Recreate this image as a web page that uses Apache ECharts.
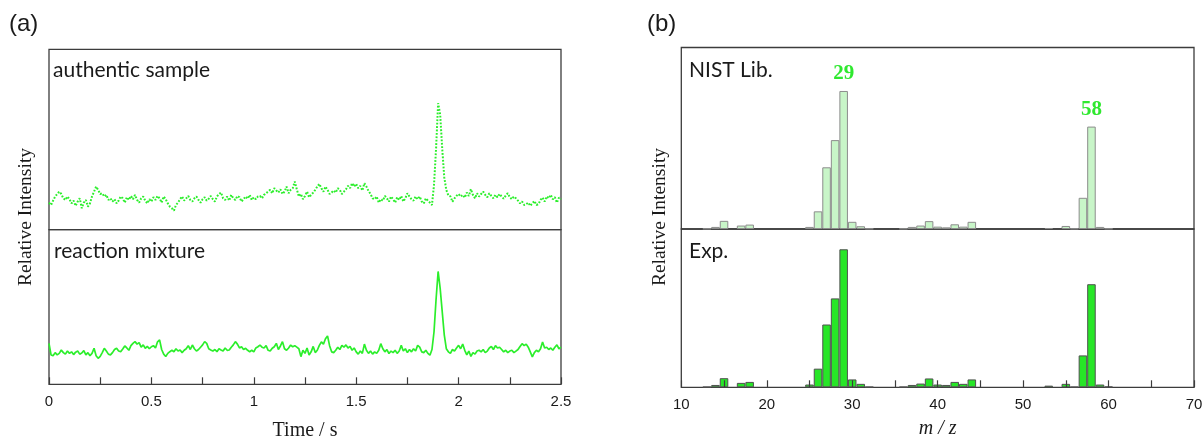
<!DOCTYPE html>
<html>
<head>
<meta charset="utf-8">
<script src="https://cdn.jsdelivr.net/npm/echarts@6/dist/echarts.min.js"></script>
<style>
  html, body { margin: 0; padding: 0; background: #ffffff; }
  #chart { width: 1204px; height: 439px; }
</style>
</head>
<body>
<div id="chart"></div>
<script>
// ---- (a) chromatograms: signal sampled every 0.01 s from 0 to 2.5 s ----
const timeStep = 0.01;
const authenticSample = [
  15.0,13.7,16.1,18.4,19.8,21.1,19.8,17.4,16.5,18.4,
  16.9,14.6,16.1,13.2,15.6,17.4,11.9,15.0,16.5,12.8,
  14.6,18.4,21.1,23.9,22.1,19.8,20.2,18.4,19.3,16.5,
  17.4,15.6,16.9,14.6,16.1,18.4,17.4,15.0,18.0,16.5,
  18.7,16.9,19.3,16.5,15.0,17.4,18.4,16.1,14.6,16.9,
  15.6,18.0,16.5,18.7,17.4,15.0,18.4,16.9,14.6,12.8,
  11.9,10.6,13.7,15.0,16.9,18.4,16.1,17.4,18.7,16.5,
  15.6,17.4,18.4,16.5,15.0,16.9,18.0,16.1,17.2,18.7,
  16.9,15.6,18.4,19.8,20.6,17.4,16.5,18.4,16.1,19.3,
  17.4,16.5,18.7,18.0,15.6,16.9,18.4,17.2,19.3,16.5,
  18.0,16.9,18.4,18.7,17.4,19.3,20.2,21.1,22.1,20.2,
  23.0,21.7,20.6,22.4,19.8,21.1,23.9,20.2,22.1,23.0,
  26.7,22.4,18.4,19.8,16.9,18.7,21.1,18.0,19.3,20.6,
  22.1,23.9,25.4,23.0,21.1,23.9,22.1,19.8,20.6,21.7,
  20.6,23.0,22.1,19.8,21.1,22.4,24.3,23.0,25.8,23.9,
  25.4,23.0,24.3,21.7,25.8,23.9,21.5,19.8,17.4,16.9,
  18.4,15.0,16.9,16.1,18.7,17.4,15.6,18.4,16.9,15.0,
  18.0,16.5,18.7,15.6,17.4,20.2,18.4,16.9,16.1,18.4,
  16.9,18.4,15.6,14.6,17.4,16.1,15.0,13.7,25.0,45.0,
  70.1,64.0,45.0,29.0,22.0,19.0,18.5,15.5,17.4,18.8,
  19.8,18.4,19.3,17.8,20.6,18.7,22.5,19.3,17.4,20.2,
  18.4,19.8,21.1,19.3,18.0,20.2,18.7,17.4,19.3,18.0,
  19.8,18.4,17.2,18.9,20.2,18.0,16.9,18.4,17.4,16.1,
  14.6,15.6,13.7,14.2,15.0,13.2,14.6,15.9,13.7,14.2,
  16.5,17.8,15.6,18.4,17.4,19.3,16.9,18.0,15.0,17.8,16.9
];
const reactionMixture = [
  26.5,19.0,18.5,20.5,19.0,20.0,22.2,20.5,19.5,21.5,
  20.0,21.0,19.2,20.8,21.5,19.5,20.2,21.8,19.0,20.5,
  18.5,20.0,23.3,18.5,16.8,18.0,20.5,23.3,21.5,19.5,
  19.0,20.5,22.5,23.3,21.5,21.1,22.8,24.8,23.5,22.0,
  25.0,26.5,27.6,26.0,27.0,24.0,25.5,23.3,24.5,23.0,
  24.3,25.0,23.5,27.5,28.7,22.5,19.5,18.0,20.0,21.1,
  22.0,21.1,23.0,21.5,22.2,20.5,22.0,23.0,25.0,22.5,
  25.4,23.0,21.5,22.5,24.0,25.5,27.6,26.5,23.0,22.2,
  21.5,22.5,21.1,23.0,22.2,21.5,23.5,22.0,22.2,24.0,
  25.5,27.6,26.0,23.5,24.3,22.5,23.3,22.0,21.1,22.0,
  21.0,23.5,24.3,25.4,24.0,23.5,25.0,22.0,21.5,23.3,
  24.3,26.5,22.5,24.8,27.6,23.0,22.0,23.5,25.4,24.3,
  25.0,24.0,23.0,17.9,22.0,20.0,23.5,19.0,21.0,24.5,
  20.5,22.0,25.2,27.4,26.0,29.5,31.3,25.0,21.0,20.5,
  22.0,24.0,22.5,25.2,24.0,25.5,23.5,24.5,22.0,23.5,
  21.0,19.5,21.5,20.0,26.0,22.0,20.0,21.5,19.5,21.0,
  20.0,22.0,26.3,23.0,21.0,22.5,19.9,21.5,20.5,22.0,
  20.0,21.5,25.2,21.5,23.0,20.5,22.5,21.0,23.0,21.5,
  25.2,24.0,21.0,20.5,22.0,20.0,18.8,22.5,34.0,55.0,
  73.0,62.0,47.0,32.0,23.0,21.0,20.0,22.5,21.5,23.5,
  25.2,23.0,26.0,22.0,19.0,21.5,18.0,20.5,19.5,21.5,
  22.0,21.0,22.5,20.5,21.5,23.5,24.5,22.5,25.0,23.5,
  24.0,22.5,21.0,22.0,20.5,21.5,22.0,20.5,21.5,22.5,
  24.5,26.3,25.0,26.0,24.0,21.0,17.7,20.5,22.0,21.0,
  23.0,27.4,23.5,24.0,22.5,23.5,22.0,24.0,25.5,23.0,24.0
];
const timeTickLabels = ['0', '0.5', '1', '1.5', '2', '2.5'];

// ---- (b) mass spectra: relative intensity (m/z 29 = 100) ----
const mzValues = [13, 14, 15, 17, 18, 25, 26, 27, 28, 29, 30, 31, 32,
                  36, 37, 38, 39, 40, 41, 42, 43, 44, 53, 55, 56, 57, 58, 59, 60];
const nistIntensity = [0.3, 1.5, 5.9, 2.5, 3.2, 1.5, 12.8, 44.7, 64.4, 100, 5.2, 2.0, 0.3,
                       0.3, 1.5, 2.5, 5.7, 1.7, 1.2, 3.4, 1.7, 5.2, 0.7, 2.2, 0.3, 22.6, 74.2, 1.5, 0.3];
const expIntensity  = [0.3, 1.7, 6.6, 3.2, 3.9, 2.0, 13.5, 45.5, 64.4, 100, 5.7, 2.5, 0.3,
                       0.3, 1.7, 2.7, 6.4, 2.0, 1.7, 3.9, 2.5, 5.7, 1.2, 2.5, 0.3, 23.1, 74.7, 2.0, 0.5];
const labelledPeaks = [29, 58];
const mzTickLabels = ['10', '20', '30', '40', '50', '60', '70'];

// ---- layout ----
const TEXT = '#1a1a1a';
const FRAME = '#3c3c3c';
const TRACE = '#2bee2b';
const serif = '"Liberation Serif", "DejaVu Serif", serif';
const sans = '"Liberation Sans", Arial, sans-serif';
const humanist = 'Lato, "Open Sans", sans-serif';

const gridA1 = { left: 49, top: 49.3, width: 512, height: 180.4 };
const gridA2 = { left: 49, top: 229.7, width: 512, height: 154.6 };
const gridB1 = { left: 681.3, top: 47.5, width: 512.7, height: 181.5 };
const gridB2 = { left: 681.3, top: 229, width: 512.7, height: 158.3 };

const mzMin = 10, mzMax = 70;
const barPx = gridB1.width / (mzMax - mzMin);

function asPairs(values) {
  return values.map((v, i) => [+(i * timeStep).toFixed(2), v]);
}
function barData(values) {
  return mzValues.map((mz, i) => ({ value: [mz, values[i]] }));
}
function labelled(values) {
  const d = barData(values);
  d.forEach(item => {
    if (labelledPeaks.includes(item.value[0])) {
      item.label = {
        show: true, position: 'top', distance: 7,
        formatter: String(item.value[0]),
        fontFamily: serif, fontWeight: 'bold', fontSize: 21, color: '#2fe82f'
      };
    }
  });
  return d;
}
function tickFormatter(list) {
  return v => {
    const s = String(+(+v).toFixed(2));
    return list.includes(s) ? s : '';
  };
}
function gridStyle(g) {
  return Object.assign({ show: true, borderColor: FRAME, borderWidth: 1.3,
                         backgroundColor: 'transparent', containLabel: false,
                         outerBoundsMode: 'none' }, g);
}
const hiddenAxis = {
  axisLine: { show: false }, axisTick: { show: false },
  axisLabel: { show: false }, splitLine: { show: false }
};

const chart = echarts.init(document.getElementById('chart'), null, { renderer: 'canvas' });

chart.setOption({
  backgroundColor: '#ffffff',
  animation: false,
  grid: [gridStyle(gridA1), gridStyle(gridA2), gridStyle(gridB1), gridStyle(gridB2)],
  xAxis: [
    Object.assign({ type: 'value', gridIndex: 0, min: 0, max: 2.5 }, hiddenAxis),
    {
      type: 'value', gridIndex: 1, min: 0, max: 2.5, interval: 0.25,
      axisLine: { show: false },
      axisTick: { show: true, inside: true, length: 7, lineStyle: { color: FRAME, width: 1.2 } },
      axisLabel: { show: true, margin: 10, fontFamily: sans, fontSize: 15, color: TEXT,
                   showMinLabel: true, showMaxLabel: true, hideOverlap: false,
                   formatter: tickFormatter(timeTickLabels) },
      splitLine: { show: false },
      name: 'Time / s', nameLocation: 'middle', nameGap: 36,
      nameTextStyle: { fontFamily: serif, fontSize: 20, color: TEXT }
    },
    Object.assign({ type: 'value', gridIndex: 2, min: mzMin, max: mzMax }, hiddenAxis),
    {
      type: 'value', gridIndex: 3, min: mzMin, max: mzMax, interval: 5, z: 5,
      axisLine: { show: false },
      axisTick: { show: true, inside: true, length: 7, lineStyle: { color: FRAME, width: 1.2 } },
      axisLabel: { show: true, margin: 10, fontFamily: sans, fontSize: 15, color: TEXT,
                   showMinLabel: true, showMaxLabel: true, hideOverlap: false,
                   formatter: tickFormatter(mzTickLabels) },
      splitLine: { show: false },
      name: 'm / z', nameLocation: 'middle', nameGap: 31,
      nameTextStyle: { fontFamily: serif, fontStyle: 'italic', fontSize: 20, color: TEXT }
    }
  ],
  yAxis: [
    Object.assign({ type: 'value', gridIndex: 0, min: 0, max: 100 }, hiddenAxis),
    Object.assign({ type: 'value', gridIndex: 1, min: 0, max: 100 }, hiddenAxis),
    Object.assign({ type: 'value', gridIndex: 2, min: 0, max: 131.5 }, hiddenAxis),
    Object.assign({ type: 'value', gridIndex: 3, min: 0, max: 114.7 }, hiddenAxis)
  ],
  series: [
    {
      name: 'authentic sample', type: 'line', xAxisIndex: 0, yAxisIndex: 0,
      data: asPairs(authenticSample), showSymbol: false, smooth: false,
      lineStyle: { color: TRACE, width: 2, type: [1.8, 1.6] }
    },
    {
      name: 'reaction mixture', type: 'line', xAxisIndex: 1, yAxisIndex: 1,
      data: asPairs(reactionMixture), showSymbol: false, smooth: false,
      lineStyle: { color: TRACE, width: 1.7 }
    },
    {
      name: 'NIST Lib.', type: 'bar', xAxisIndex: 2, yAxisIndex: 2,
      data: labelled(nistIntensity), barWidth: barPx,
      itemStyle: { color: '#c8f5c8', borderColor: '#8c8c8c', borderWidth: 1 }
    },
    {
      name: 'Exp.', type: 'bar', xAxisIndex: 3, yAxisIndex: 3,
      data: barData(expIntensity), barWidth: barPx,
      itemStyle: { color: '#27e627', borderColor: '#505050', borderWidth: 1 }
    }
  ],
  graphic: [
    { type: 'text', left: 9, top: 12, style: { text: '(a)', fontFamily: sans, fontSize: 24, fill: TEXT } },
    { type: 'text', left: 647, top: 12, style: { text: '(b)', fontFamily: sans, fontSize: 24, fill: TEXT } },
    { type: 'text', x: 53, y: 70, style: { text: 'authentic sample', fontFamily: humanist, fontSize: 21, fill: TEXT, verticalAlign: 'middle' } },
    { type: 'text', x: 54, y: 251, style: { text: 'reaction mixture', fontFamily: humanist, fontSize: 21, fill: TEXT, verticalAlign: 'middle' } },
    { type: 'text', x: 689, y: 70, style: { text: 'NIST Lib.', fontFamily: humanist, fontSize: 21, fill: TEXT, verticalAlign: 'middle' } },
    { type: 'text', x: 689, y: 251, style: { text: 'Exp.', fontFamily: humanist, fontSize: 21, fill: TEXT, verticalAlign: 'middle' } },
    { type: 'text', x: 26, y: 217, rotation: Math.PI / 2,
      style: { text: 'Relative Intensity', fontFamily: serif, fontSize: 19.5, fill: TEXT, align: 'center', verticalAlign: 'middle' } },
    { type: 'text', x: 660, y: 217, rotation: Math.PI / 2,
      style: { text: 'Relative Intensity', fontFamily: serif, fontSize: 19.5, fill: TEXT, align: 'center', verticalAlign: 'middle' } }
  ]
});
</script>
</body>
</html>
